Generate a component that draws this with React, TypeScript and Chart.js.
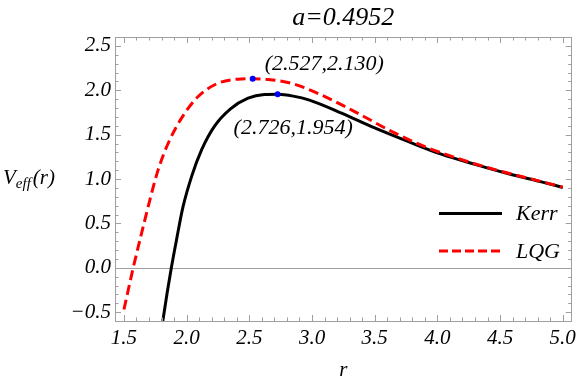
import { useEffect, useRef } from "react";
import { Chart, registerables } from "chart.js";
Chart.register(...registerables);

// ---- data ----
const kerrR = [1.81, 1.845, 1.878, 1.92, 1.97, 2.04, 2.12, 2.22, 2.35, 2.49, 2.62, 2.726, 2.85, 2.98, 3.24, 3.5, 3.77, 4.03, 4.3, 4.56, 4.83, 5.0];
const kerrV = [-0.6, -0.28, 0.0, 0.32, 0.68, 1.03, 1.33, 1.59, 1.79, 1.91, 1.951, 1.954, 1.934, 1.889, 1.739, 1.575, 1.42, 1.28, 1.165, 1.062, 0.968, 0.905];
const lqgR = [1.5, 1.574, 1.64, 1.706, 1.772, 1.852, 1.958, 2.09, 2.248, 2.407, 2.527, 2.65, 2.844, 3.108, 3.373, 3.637, 3.9, 4.2, 4.5, 4.8, 5.0];
const lqgV = [-0.47, 0.0, 0.386, 0.76, 1.1, 1.4, 1.683, 1.927, 2.078, 2.125, 2.13, 2.121, 2.075, 1.925, 1.735, 1.535, 1.365, 1.215, 1.09, 0.982, 0.908];
const peakR = [2.527, 2.726];
const peakV = [2.13, 1.954];
const peakLabels = ["(2.527,2.130)", "(2.726,1.954)"];
const seriesNames = ["Kerr", "LQG"];
const titleText = "a=0.4952";
const xLabel = "r";

const FONT = "'Liberation Serif', 'Times New Roman', serif";
const GRAY = "#9f9f9f";

const mmaPlugin = {
  id: "mma",
  beforeDatasetsDraw(chart: any) {
    const { ctx, chartArea: a, scales } = chart;
    const y0 = Math.round(scales.y.getPixelForValue(0)) + 0.5;
    ctx.save();
    ctx.strokeStyle = GRAY;
    ctx.lineWidth = 1;
    ctx.beginPath();
    ctx.moveTo(a.left, y0);
    ctx.lineTo(a.right, y0);
    ctx.stroke();
    ctx.restore();
  },
  afterDraw(chart: any) {
    const { ctx, chartArea: a, scales } = chart;
    const xs = scales.x, ys = scales.y;
    ctx.save();
    // frame
    ctx.strokeStyle = GRAY;
    ctx.lineWidth = 1;
    ctx.strokeRect(Math.round(a.left) + 0.5, Math.round(a.top) + 0.5, Math.round(a.right - a.left) - 1, Math.round(a.bottom - a.top));
    // ticks (inward, all four sides)
    ctx.beginPath();
    for (let k = Math.ceil(xs.min * 10); k <= Math.floor(xs.max * 10); k++) {
      const len = k % 5 === 0 ? 6 : 3.5;
      const px = Math.round(xs.getPixelForValue(k / 10)) + 0.5;
      ctx.moveTo(px, a.bottom);
      ctx.lineTo(px, a.bottom - len);
      ctx.moveTo(px, a.top);
      ctx.lineTo(px, a.top + len);
    }
    for (let k = Math.ceil(ys.min * 10 - 1e-9); k <= Math.floor(ys.max * 10 + 1e-9); k++) {
      const len = k % 5 === 0 ? 6 : 3.5;
      const py = Math.round(ys.getPixelForValue(k / 10)) + 0.5;
      ctx.moveTo(a.left, py);
      ctx.lineTo(a.left + len, py);
      ctx.moveTo(a.right, py);
      ctx.lineTo(a.right - len, py);
    }
    ctx.stroke();

    ctx.fillStyle = "#000";
    // title
    ctx.font = `italic 26px ${FONT}`;
    ctx.textAlign = "center";
    ctx.textBaseline = "alphabetic";
    ctx.fillText(titleText, (a.left + a.right) / 2, 25);
    // x label
    ctx.font = `italic 21px ${FONT}`;
    ctx.fillText(xLabel, (a.left + a.right) / 2, 376);
    // y label V_eff(r)
    const yc = (a.top + a.bottom) / 2;
    ctx.textAlign = "left";
    ctx.font = `italic 21px ${FONT}`;
    let cx = 3;
    ctx.fillText("V", cx, yc + 5);
    cx += ctx.measureText("V").width;
    ctx.font = `italic 15px ${FONT}`;
    ctx.fillText("eff", cx, yc + 9);
    cx += ctx.measureText("eff").width + 2;
    ctx.font = `italic 21px ${FONT}`;
    ctx.fillText("(r)", cx, yc + 5);

    // annotations
    ctx.font = `italic 22px ${FONT}`;
    ctx.textAlign = "center";
    ctx.textBaseline = "middle";
    const offs = [[71.5, -14.5], [15.5, 33.5]];
    for (let i = 0; i < peakR.length; i++) {
      const px = xs.getPixelForValue(peakR[i]);
      const py = ys.getPixelForValue(peakV[i]);
      ctx.fillText(peakLabels[i], px + offs[i][0], py + offs[i][1]);
    }

    // legend
    const ly = [213.5, 251];
    const colors = ["#000000", "#ff0000"];
    for (let i = 0; i < 2; i++) {
      ctx.strokeStyle = colors[i];
      ctx.lineWidth = 3;
      ctx.setLineDash(i === 1 ? [9, 4] : []);
      ctx.beginPath();
      ctx.moveTo(439, ly[i]);
      ctx.lineTo(502, ly[i]);
      ctx.stroke();
      ctx.setLineDash([]);
      ctx.textAlign = "left";
      ctx.textBaseline = "middle";
      ctx.fillStyle = "#000";
      ctx.fillText(seriesNames[i], 516, ly[i] + 1);
    }
    ctx.restore();
  },
};

export default function App() {
  const ref = useRef<HTMLCanvasElement>(null);
  useEffect(() => {
    if (!ref.current) return;
    const fmt = (v: number) => v.toFixed(1).replace("-", "\u2212");
    const chart = new Chart(ref.current, {
      type: "scatter",
      data: {
        datasets: [
          {
            label: "peaks",
            data: peakR.map((r, i) => ({ x: r, y: peakV[i] })),
            showLine: false,
            pointRadius: 3,
            pointBackgroundColor: "#0000ff",
            pointBorderWidth: 0,
          },
          {
            label: seriesNames[1],
            data: lqgR.map((r, i) => ({ x: r, y: lqgV[i] })),
            showLine: true,
            borderColor: "#ff0000",
            borderWidth: 3,
            borderDash: [10, 5],
            pointRadius: 0,
            cubicInterpolationMode: "monotone",
          },
          {
            label: seriesNames[0],
            data: kerrR.map((r, i) => ({ x: r, y: kerrV[i] })),
            showLine: true,
            borderColor: "#000000",
            borderWidth: 3,
            pointRadius: 0,
            cubicInterpolationMode: "monotone",
          },
        ],
      },
      options: {
        responsive: false,
        animation: false,
        layout: { padding: { left: 0, right: 7, top: 37, bottom: 0 } },
        plugins: { legend: { display: false }, tooltip: { enabled: false }, title: { display: false } },
        scales: {
          x: {
            type: "linear",
            min: 1.4286,
            max: 5.0714,
            grid: { display: false, drawTicks: false },
            border: { display: false },
            ticks: {
              stepSize: 0.5,
              includeBounds: false,
              padding: 5,
              color: "#000",
              font: { family: FONT, size: 21, style: "italic" },
              callback: (v: any) => fmt(Number(v)),
              maxRotation: 0,
              autoSkip: false,
            },
            afterFit: (s: any) => { s.height = 63; },
          },
          y: {
            type: "linear",
            min: -0.6,
            max: 2.6,
            grid: { display: false, drawTicks: false },
            border: { display: false },
            ticks: {
              stepSize: 0.5,
              includeBounds: false,
              padding: 4,
              color: "#000",
              font: { family: FONT, size: 21, style: "italic" },
              callback: (v: any) => fmt(Number(v)),
              autoSkip: false,
            },
            afterFit: (s: any) => { s.width = 115; },
          },
        },
      },
      plugins: [mmaPlugin],
    } as any);
    return () => chart.destroy();
  }, []);
  return (
    <div style={{ position: "absolute", left: 0, top: 0, width: 581, height: 384, background: "#fff" }}>
      <canvas ref={ref} width={581} height={384} style={{ display: "block" }} />
    </div>
  );
}
